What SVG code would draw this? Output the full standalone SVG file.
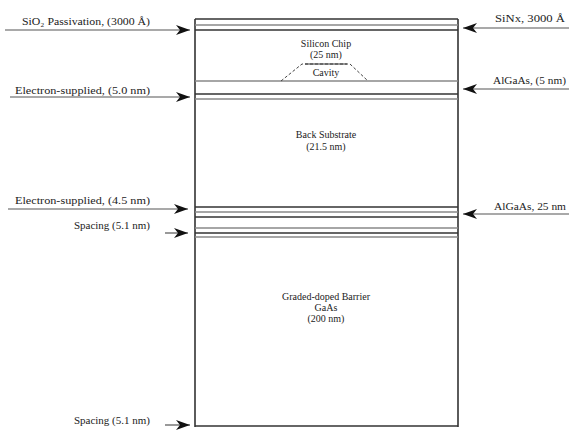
<svg xmlns="http://www.w3.org/2000/svg" width="569" height="433" viewBox="0 0 569 433">
<defs>
<marker id="ah" viewBox="0 0 14 10" refX="14" refY="5" markerWidth="14" markerHeight="10" markerUnits="userSpaceOnUse" orient="auto">
<path d="M0,0 L14,5 L0,10 L4,5 Z" fill="#111"/>
</marker>
<style>
.t{font-family:"Liberation Serif",serif;font-size:10px;fill:#222}
.c{text-anchor:middle}
.e{text-anchor:end;font-size:11px}
.d{stroke:#333;stroke-width:1.6;fill:none}
.g{stroke:#888;stroke-width:1.6;fill:none}
.cn{stroke:#555;stroke-width:1.2;fill:none;marker-end:url(#ah)}
</style>
</defs>
<rect width="569" height="433" fill="#fff"/>
<g id="stack">
<line class="d" x1="195" y1="19" x2="195" y2="427"/>
<line class="d" x1="458" y1="19" x2="458" y2="427"/>
<line class="d" x1="195" y1="19" x2="458" y2="19"/>
<line class="g" x1="195" y1="25" x2="458" y2="25"/>
<line class="d" x1="195" y1="30" x2="458" y2="30"/>
<line class="g" x1="195" y1="81" x2="458" y2="81"/>
<line class="d" x1="195" y1="94" x2="458" y2="94"/>
<line class="g" x1="195" y1="99" x2="458" y2="99"/>
<line class="d" x1="195" y1="207" x2="458" y2="207"/>
<line class="g" x1="195" y1="212" x2="458" y2="212"/>
<line class="d" x1="195" y1="217" x2="458" y2="217"/>
<line class="g" x1="195" y1="228" x2="458" y2="228"/>
<line class="d" x1="195" y1="233" x2="458" y2="233"/>
<line class="g" x1="195" y1="237" x2="458" y2="237"/>
<line class="d" x1="195" y1="426" x2="458" y2="426"/>
</g>
<g id="chip">
<text class="t c" x="326" y="47">Silicon Chip</text>
<text class="t c" x="326" y="58">(25 nm)</text>
<path d="M281,81 L302,64 L350,64 L368,81" stroke="#444" stroke-width="1" stroke-dasharray="3,2" fill="none"/>
<line x1="305" y1="64" x2="347" y2="64" stroke="#333" stroke-width="1.2"/>
<text class="t c" x="326" y="76">Cavity</text>
</g>
<g id="back">
<text class="t c" x="326" y="138">Back Substrate</text>
<text class="t c" x="326" y="150">(21.5 nm)</text>
</g>
<g id="barrier">
<text class="t c" x="326" y="300">Graded-doped Barrier</text>
<text class="t c" x="326" y="311">GaAs</text>
<text class="t c" x="326" y="322">(200 nm)</text>
</g>
<g id="labels">
<text class="t" x="22" y="25" textLength="128" lengthAdjust="spacingAndGlyphs">SiO₂ Passivation, (3000 Å)</text>
<text class="t" x="15" y="94" textLength="135" lengthAdjust="spacingAndGlyphs">Electron-supplied, (5.0 nm)</text>
<text class="t" x="15" y="204" textLength="135" lengthAdjust="spacingAndGlyphs">Electron-supplied, (4.5 nm)</text>
<text class="t e" x="150" y="229">Spacing (5.1 nm)</text>
<text class="t e" x="150" y="424">Spacing (5.1 nm)</text>
<text class="t" x="495" y="22" textLength="70" lengthAdjust="spacingAndGlyphs">SiNx, 3000 Å</text>
<text class="t" x="493" y="84" textLength="73" lengthAdjust="spacingAndGlyphs">AlGaAs, (5 nm)</text>
<text class="t" x="494" y="210" textLength="72" lengthAdjust="spacingAndGlyphs">AlGaAs, 25 nm</text>
</g>
<g id="connectors">
<line class="cn" x1="5" y1="30" x2="190" y2="30"/>
<line class="cn" x1="10" y1="97" x2="190" y2="97"/>
<line class="cn" x1="8" y1="209" x2="188" y2="209"/>
<line class="cn" x1="165" y1="233" x2="188" y2="233"/>
<line class="cn" x1="165" y1="425" x2="190" y2="425"/>
<line class="cn" x1="569" y1="28" x2="463" y2="28"/>
<line class="cn" x1="569" y1="89" x2="463" y2="89"/>
<line class="cn" x1="569" y1="214" x2="463" y2="214"/>
</g>
</svg>
